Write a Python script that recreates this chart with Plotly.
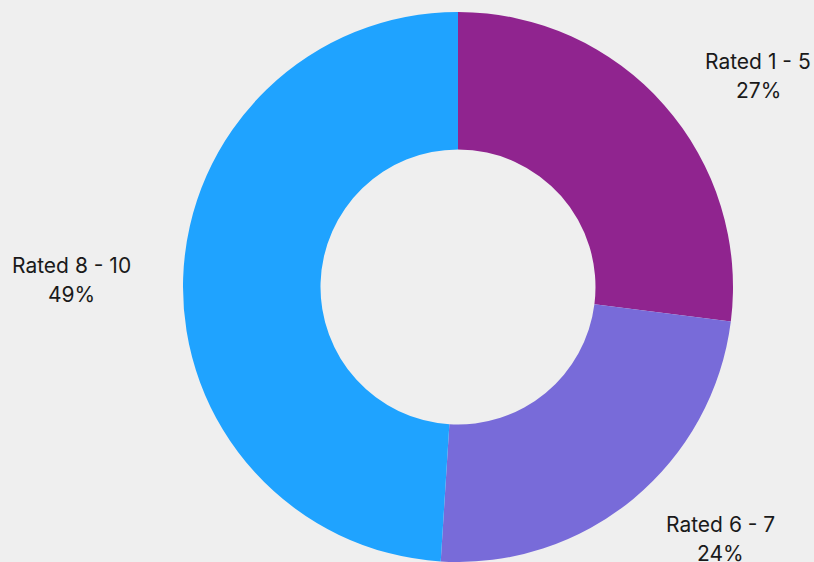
import plotly.graph_objects as go

categories = ["Rated 1 - 5", "Rated 6 - 7", "Rated 8 - 10"]
values = [27, 24, 49]
colors = ["#90248f", "#786bd9", "#1fa3ff"]

W, H = 814, 562
# label anchor positions (pixels, from top-left)
label_pos = [(758, 61), (720, 524), (71, 265)]

fig = go.Figure(go.Pie(
    labels=categories,
    values=values,
    marker=dict(colors=colors, line=dict(width=0)),
    hole=0.5,
    sort=False,
    direction="clockwise",
    rotation=0,
    textinfo="none",
    hoverinfo="label+percent",
    showlegend=False,
    domain=dict(x=[(458 - 275) / W, (458 + 275) / W], y=[0, 550 / H]),
))

annotations = []
for cat, val, (px, py) in zip(categories, values, label_pos):
    for i, txt in enumerate([cat, f"{val}%"]):
        annotations.append(dict(
            x=px / W, y=1 - (py + i * 29.5) / H, xref="paper", yref="paper",
            text=txt, showarrow=False, xanchor="center", yanchor="middle",
            font=dict(family="Inter, Noto Sans, sans-serif", size=21, color="#1a1a1a"),
        ))

fig.update_layout(
    width=W, height=H,
    margin=dict(l=0, r=0, t=0, b=0),
    paper_bgcolor="#efefef",
    plot_bgcolor="#efefef",
    annotations=annotations,
)

fig.write_html("out.html")
